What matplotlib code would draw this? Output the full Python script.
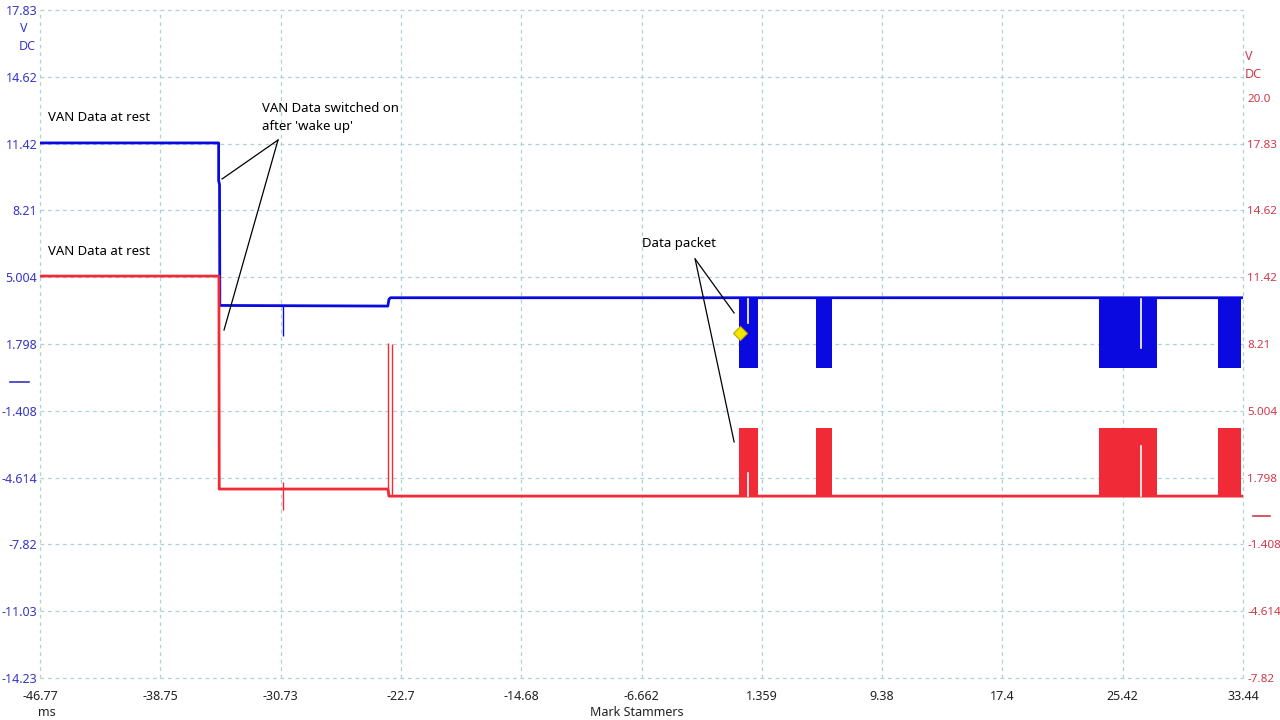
import matplotlib
matplotlib.use("Agg")
import matplotlib.pyplot as plt

plt.rcParams['font.family'] = ['Noto Sans', 'DejaVu Sans']

# time axis (ms) and the two voltage scales
x_ticks = [-46.77, -38.75, -30.73, -22.7, -14.68, -6.662, 1.359, 9.38, 17.4, 25.42, 33.44]
x_labels = ["-46.77", "-38.75", "-30.73", "-22.7", "-14.68", "-6.662", "1.359", "9.38", "17.4", "25.42", "33.44"]
left_ticks = [17.83, 14.62, 11.42, 8.21, 5.004, 1.798, -1.408, -4.614, -7.82, -11.03, -14.23]
left_labels = ["17.83", "14.62", "11.42", "8.21", "5.004", "1.798", "-1.408", "-4.614", "-7.82", "-11.03", "-14.23"]
right_ticks = [20.0, 17.83, 14.62, 11.42, 8.21, 5.004, 1.798, -1.408, -4.614, -7.82]
right_labels = ["20.0", "17.83", "14.62", "11.42", "8.21", "5.004", "1.798", "-1.408", "-4.614", "-7.82"]

# channel A (blue, left scale) breakpoints
blue_t = [-46.77, -34.86, -34.86, -34.80, -34.78, -23.58, -23.50, -23.40, 33.44]
blue_v = [11.45, 11.45, 9.65, 9.45, 3.65, 3.62, 3.95, 4.02, 4.02]
blue_spike_t = [-30.57]
blue_spike_lo = [2.20]
blue_spike_hi = [3.62]

# channel B (red, right scale) breakpoints
red_t = [-46.77, -34.84, -34.82, -23.57, -23.50, 33.44]
red_v = [11.47, 11.47, 1.25, 1.25, 0.91, 0.91]
red_spike_t = [-30.57, -23.57, -23.30]
red_spike_lo = [0.24, 0.91, 0.91]
red_spike_hi = [1.60, 8.26, 8.20]

# data packets (start / end in ms)
pkt_start = [-0.16, 4.97, 23.84, 31.78]
pkt_end = [1.11, 6.04, 27.71, 33.31]
blue_hi, blue_lo = 4.02, 0.65
red_hi, red_lo = 4.18, 0.91
gap_t = [0.44, 26.64]
blue_gap_lo = [2.81, 1.61]
red_gap_hi = [2.02, 3.31]

BLUE = "#0a0ae0"
RED = "#f02a36"
BLUE_TXT = "#3535c8"
RED_TXT = "#d0384a"
GRID = "#a9d3d9"

fig = plt.figure(figsize=(12.8, 7.2), dpi=100)
ax = fig.add_axes([40 / 1280, 42 / 720, 1203 / 1280, 668 / 720])
ax2 = ax.twinx()

ax.set_xlim(x_ticks[0], x_ticks[-1])
ax.set_ylim(left_ticks[-1], left_ticks[0])
ax2.set_ylim(right_ticks[-1], right_ticks[-1] + (left_ticks[0] - left_ticks[-1]))

for a in (ax, ax2):
    for s in a.spines.values():
        s.set_visible(False)

ax.set_xticks(x_ticks)
ax.set_xticklabels(x_labels)
ax.set_yticks(left_ticks)
ax.set_yticklabels(left_labels)
ax2.set_yticks(right_ticks)
ax2.set_yticklabels(right_labels)
ax.tick_params(axis='x', length=0, pad=9, labelsize=9, labelcolor="#222222")
ax.tick_params(axis='y', length=0, pad=2, labelsize=9, labelcolor=BLUE_TXT)
ax2.tick_params(axis='y', length=0, pad=3, labelsize=8.4, labelcolor=RED_TXT)

for v in x_ticks:
    ax.axvline(v, color=GRID, lw=0.9, ls=(0, (3, 3)), zorder=0, clip_on=False)
for v in left_ticks:
    ax.axhline(v, color=GRID, lw=0.9, ls=(0, (3, 3)), zorder=0, clip_on=False)

# traces
ax.plot(blue_t, blue_v, color=BLUE, lw=2.0, zorder=3)
ax.vlines(blue_spike_t, blue_spike_lo, blue_spike_hi, color=BLUE, lw=1.0, zorder=3)
ax2.plot(red_t, red_v, color=RED, lw=2.0, zorder=2)
ax2.vlines(red_spike_t, red_spike_lo, red_spike_hi, color=RED, lw=1.0, zorder=2)
for s, e in zip(pkt_start, pkt_end):
    ax.fill_between([s, e], blue_lo, blue_hi, color=BLUE, lw=0, zorder=3)
    ax2.fill_between([s, e], red_lo, red_hi, color=RED, lw=0, zorder=2)
for g, bl, rh in zip(gap_t, blue_gap_lo, red_gap_hi):
    ax.plot([g, g], [blue_hi - 0.05, bl], color="white", lw=1.2, zorder=4)
    ax2.plot([g, g], [red_lo, rh], color="white", lw=1.2, zorder=4)

# trigger marker
ax.plot([-0.09], [2.33], marker='D', ms=7, color="#f5e600", mec="#b8a800", mew=0.8, zorder=6)

# annotations
ax.text(-46.24, 12.65, "VAN Data at rest", fontsize=9.5, va='center', ha='left', zorder=6)
ax.text(-46.24, 6.22, "VAN Data at rest", fontsize=9.5, va='center', ha='left', zorder=6)
ax.text(-31.97, 12.67, "VAN Data switched on\nafter 'wake up'", fontsize=9.5, va='center', ha='left',
        linespacing=1.5, zorder=6)
ax.text(-6.6, 6.61, "Data packet", fontsize=9.5, va='center', ha='left', zorder=6)
for tx, ty in [(-34.63, 9.72), (-34.50, 2.47)]:
    ax.plot([-30.90, tx], [11.59, ty], color="black", lw=0.9, zorder=5)
for tx, ty in [(-0.49, 3.29), (-0.49, -2.90)]:
    ax.plot([-3.09, tx], [5.88, ty], color="black", lw=0.9, zorder=5)

# units and zero markers
fig.text(24 / 1280, 1 - 28 / 720, "V", color=BLUE_TXT, fontsize=9, ha='center', va='center')
fig.text(27 / 1280, 1 - 46 / 720, "DC", color=BLUE_TXT, fontsize=9, ha='center', va='center')
fig.text(1245 / 1280, 1 - 57 / 720, "V", color=RED_TXT, fontsize=9, ha='left', va='center')
fig.text(1245 / 1280, 1 - 74 / 720, "DC", color=RED_TXT, fontsize=9, ha='left', va='center')
fig.add_artist(plt.Line2D([10 / 1280, 29 / 1280], [1 - 382 / 720] * 2, color=BLUE_TXT, lw=1.2))
fig.add_artist(plt.Line2D([1253 / 1280, 1270 / 1280], [1 - 516 / 720] * 2, color=RED_TXT, lw=1.2))
fig.text(47 / 1280, 1 - 712 / 720, "ms", fontsize=9, ha='center', va='center', color="#222222")
fig.text(637 / 1280, 1 - 712 / 720, "Mark Stammers", fontsize=9, ha='center', va='center', color="#222222")

fig.savefig("out.png", dpi=100)
